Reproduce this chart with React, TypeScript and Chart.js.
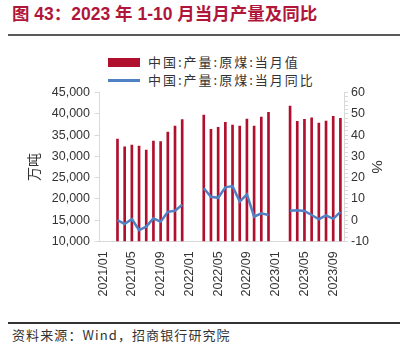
import React, { useEffect, useRef } from "react";
import { Chart, registerables } from "chart.js";

Chart.register(...registerables);

const categories = [
  "2021/01", "2021/02", "2021/03", "2021/04", "2021/05", "2021/06", "2021/07", "2021/08", "2021/09", "2021/10", "2021/11", "2021/12",
  "2022/01", "2022/02", "2022/03", "2022/04", "2022/05", "2022/06", "2022/07", "2022/08", "2022/09", "2022/10", "2022/11", "2022/12",
  "2023/01", "2023/02", "2023/03", "2023/04", "2023/05", "2023/06", "2023/07", "2023/08", "2023/09", "2023/10",
];

const prod2021 = [null, null, 34100, 32280, 32680, 32450, 31500, 33620, 33460, 35740, 37160, 38640];
const prod2022 = [null, null, 39750, 36380, 36850, 38020, 37390, 37150, 38800, 37150, 39270, 40380];
const prod2023 = [null, null, 41860, 38260, 38730, 39110, 37860, 38330, 39440, 38970];

const yoy2021 = [null, null, 0.0, -1.9, 0.5, -4.7, -3.1, 0.8, -0.8, 3.9, 4.4, 7.2];
const yoy2022 = [null, null, 15.0, 11.0, 10.5, 15.4, 16.0, 8.7, 12.1, 1.6, 3.2, 2.4];
const yoy2023 = [null, null, 4.4, 4.6, 4.3, 2.4, 0.4, 2.2, 0.6, 3.9];

const leftTicks = [10000, 45000, 5000];
const rightTicks = [-10, 60, 2];

const seriesBarName = "中国:产量:原煤:当月值";
const seriesLineName = "中国:产量:原煤:当月同比";
const titleText = "图 43：2023 年 1-10 月当月产量及同比";
const sourceText = "资料来源：Wind，招商银行研究院";

const RED = "#b0102e";
const BLUE = "#4f81c4";
const AXIS = "#d9d9d9";
const TXT = "#333333";

export default function App() {
  const ref = useRef<HTMLCanvasElement | null>(null);

  useEffect(() => {
    if (!ref.current) return;
    const prod = [...prod2021, ...prod2022, ...prod2023];
    const yoy = [...yoy2021, ...yoy2022, ...yoy2023];
    const chart = new Chart(ref.current, {
      type: "bar",
      data: {
        labels: categories,
        datasets: [
          {
            type: "line",
            label: seriesLineName,
            data: yoy,
            yAxisID: "y1",
            borderColor: BLUE,
            backgroundColor: BLUE,
            borderWidth: 2.5,
            pointRadius: 0,
            tension: 0,
            spanGaps: false,
            order: 1,
          } as any,
          {
            type: "bar",
            label: seriesBarName,
            data: prod,
            yAxisID: "y",
            backgroundColor: RED,
            barThickness: 2,
            order: 2,
          } as any,
        ],
      },
      options: {
        animation: false,
        responsive: false,
        maintainAspectRatio: false,
        layout: { padding: { top: 12.7, left: 0, right: 0, bottom: 0 } },
        plugins: { legend: { display: false }, tooltip: { enabled: false } },
        scales: {
          x: {
            type: "category",
            offset: true,
            grid: { display: true, drawOnChartArea: false, drawTicks: true, tickLength: 5, color: "rgba(0,0,0,0)" },
            border: { display: true, color: AXIS, width: 1 },
            ticks: {
              autoSkip: false,
              maxRotation: 90,
              minRotation: 90,
              padding: 5,
              color: TXT,
              font: { family: "'Liberation Sans', Arial", size: 12.5 },
              callback: (_v: any, i: number) => (i % 4 === 0 ? categories[i] : ""),
            },
            afterFit: (s: any) => {
              s.height = 73.7;
            },
          },
          y: {
            position: "left",
            min: leftTicks[0],
            max: leftTicks[1],
            grid: { display: true, drawOnChartArea: false, drawTicks: true, tickLength: 5, color: AXIS },
            border: { display: true, color: AXIS, width: 1 },
            ticks: {
              stepSize: leftTicks[2],
              padding: 4.5,
              color: TXT,
              font: { family: "'Liberation Sans', Arial", size: 12.5 },
              callback: (v: any) => Number(v).toLocaleString("en-US"),
            },
            title: {
              display: true,
              text: "万吨",
              color: TXT,
              font: { family: "'Noto Sans CJK SC'", size: 14 },
              padding: { top: 25, bottom: 0 },
            },
            afterFit: (s: any) => {
              s.width = 99.5;
            },
          },
          y1: {
            position: "right",
            min: rightTicks[0],
            max: rightTicks[1],
            grid: { display: true, drawOnChartArea: false, drawTicks: true, tickLength: 4, color: AXIS },
            border: { display: true, color: AXIS, width: 1 },
            ticks: {
              stepSize: rightTicks[2],
              autoSkip: false,
              padding: 3,
              color: TXT,
              font: { family: "'Liberation Sans', Arial", size: 12.5 },
              callback: (v: any) => (Number(v) % 10 === 0 ? String(v) : ""),
            },
            title: {
              display: true,
              text: "%",
              color: TXT,
              font: { family: "'Liberation Sans', Arial", size: 15 },
              padding: { top: 28, bottom: 0 },
            },
            afterFit: (s: any) => {
              s.width = 69;
            },
          },
        },
      } as any,
    });
    return () => chart.destroy();
  }, []);

  const legendText: React.CSSProperties = {
    position: "absolute",
    left: 148,
    fontFamily: "'Noto Sans CJK SC', sans-serif",
    fontSize: 13,
    letterSpacing: 2,
    color: TXT,
    lineHeight: "16px",
    whiteSpace: "nowrap",
  };

  return (
    <div style={{ position: "absolute", left: 0, top: 0, width: 413, height: 352, background: "#fff", overflow: "hidden" }}>
      <div
        style={{
          position: "absolute",
          left: 12,
          top: 4,
          fontFamily: "'Liberation Sans', 'Noto Sans CJK SC', sans-serif",
          fontWeight: "bold",
          fontSize: 17.5,
          lineHeight: "20px",
          color: "#b0163a",
          whiteSpace: "nowrap",
        }}
      >
        {titleText}
      </div>
      <div style={{ position: "absolute", left: 8, top: 33.5, width: 392, height: 2, background: "#595959" }} />
      <div style={{ position: "absolute", left: 108, top: 58, width: 32, height: 9, background: RED }} />
      <div style={{ ...legendText, top: 54 }}>{seriesBarName}</div>
      <div style={{ position: "absolute", left: 108, top: 79, width: 32, height: 2.5, background: BLUE }} />
      <div style={{ ...legendText, top: 72 }}>{seriesLineName}</div>
      <canvas ref={ref} width={413} height={235} style={{ position: "absolute", left: 0, top: 80, width: 413, height: 235 }} />
      <div style={{ position: "absolute", left: 8, top: 321.5, width: 392, height: 2, background: "#333" }} />
      <div
        style={{
          position: "absolute",
          left: 12,
          top: 326,
          fontFamily: "'Noto Sans CJK SC', 'Liberation Sans', sans-serif",
          fontSize: 13,
          letterSpacing: 1.1,
          lineHeight: "18px",
          color: TXT,
          whiteSpace: "nowrap",
        }}
      >
        {sourceText}
      </div>
    </div>
  );
}
